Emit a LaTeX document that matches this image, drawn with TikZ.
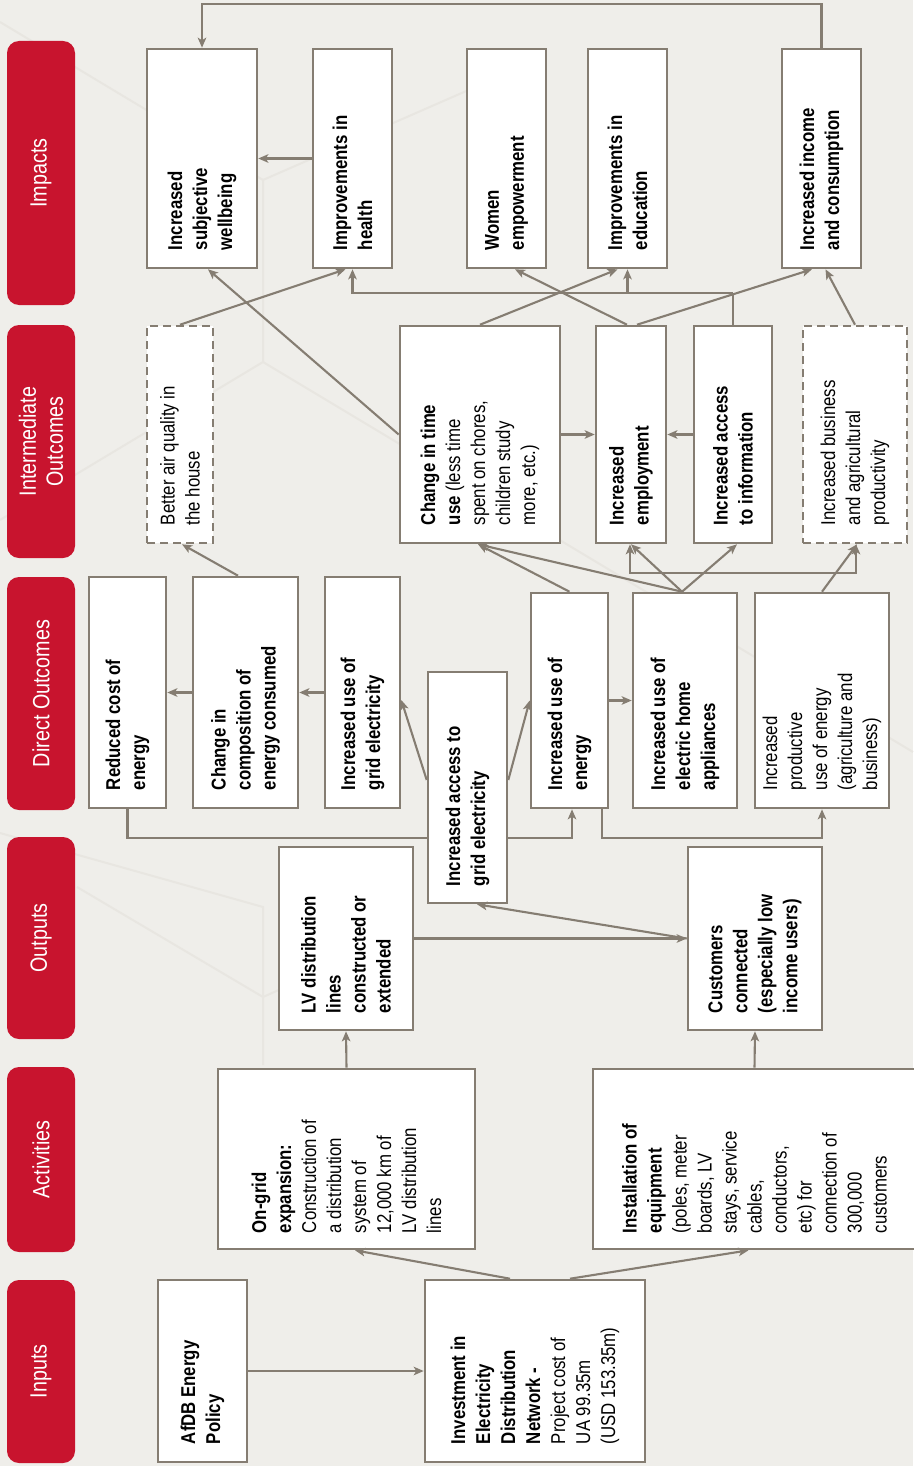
\documentclass[tikz,border=0pt]{standalone}
\usepackage{fontspec}
\setmainfont{Liberation Sans}[FakeStretch=0.84]
\usetikzlibrary{arrows.meta,fit}
\definecolor{bg}{HTML}{EFEEEA}
\definecolor{ln}{HTML}{857D72}
\definecolor{redc}{HTML}{C8142E}
\definecolor{bgl}{HTML}{E8E6E1}
\begin{document}
\begin{tikzpicture}[x=1pt,y=-1pt,
  box/.style={draw=ln, line width=2.6pt, fill=white, inner sep=0pt, rectangle},
  dbox/.style={box, dash pattern=on 8pt off 5pt},
  txt/.style={rotate=90, anchor=west, inner sep=0pt, align=left, text=black, font=\fontsize{20}{25}\selectfont},
  txtb/.style={txt, font=\fontsize{20}{25}\selectfont\bfseries},
  cat/.style={fill=redc, rounded corners=12pt, rotate=90, text=white, align=center, inner sep=0pt, font=\fontsize{23.5}{27}\selectfont},
  conn/.style={draw=ln, line width=2.1pt},
  arr/.style={conn, -{Stealth[length=10pt,width=8.5pt,inset=2.5pt]}},
  bgline/.style={draw=bgl, line width=2pt},
]
\useasboundingbox (0,0) rectangle (913,1466);
\fill[bg] (0,0) rectangle (913,1466);
% faint background pattern
\draw[bgline] (0,22) -- (263,180) -- (263,362);
\draw[bgline] (263,180) -- (480,85);
\draw[bgline] (0,520) -- (263,362) -- (913,752);
\draw[bgline] (0,833) -- (263,907) -- (263,1065);
\draw[bgline] (77,887) -- (263,997) -- (290,985);

% category labels
\node[cat, minimum width=264pt, minimum height=68pt] (cimp) at (41,173) {Impacts};
\node[cat, minimum width=233pt, minimum height=68pt] (cint) at (41,441.5) {Intermediate\\Outcomes};
\node[cat, minimum width=233pt, minimum height=68pt] (cdir) at (41,693.5) {Direct Outcomes};
\node[cat, minimum width=202pt, minimum height=68pt] (cout) at (41,938) {Outputs};
\node[cat, minimum width=185pt, minimum height=68pt] (cact) at (41,1159.5) {Activities};
\node[cat, minimum width=183pt, minimum height=68pt] (cinp) at (41,1371.5) {Inputs};

% boxes: Impacts
\node[box, fit={(147,49)(257,268)}] (wb) {};
\node[box, fit={(313,49)(392,268)}] (hl) {};
\node[box, fit={(467,49)(546,268)}] (wm) {};
\node[box, fit={(588,49)(667,268)}] (ed) {};
\node[box, fit={(782,49)(861,268)}] (inc) {};
% Intermediate
\node[dbox, fit={(147,326)(213,543)}] (ba) {};
\node[box, fit={(400,326)(560,543)}] (ct) {};
\node[box, fit={(596,326)(666,543)}] (em) {};
\node[box, fit={(694,326)(772,543)}] (ai) {};
\node[dbox, fit={(803,326)(907,543)}] (bu) {};
% Direct outcomes
\node[box, fit={(89,577)(166,808)}] (rc) {};
\node[box, fit={(193,577)(298,808)}] (co) {};
\node[box, fit={(325,577)(400,808)}] (gu) {};
\node[box, fit={(531,593)(608,808)}] (ue) {};
\node[box, fit={(633,593)(737,808)}] (ap) {};
\node[box, fit={(755,593)(889,808)}] (pu) {};
% connectors passing behind the access box
\draw[arr] (rc.south) -- ++(0,29) -| ([xshift=2.5pt]ue.south);
\draw[arr] ([xshift=32.5pt]ue.south) -- ++(0,29) -| (pu.south);
\node[box, fit={(428,672)(507,903)}] (ag) {};
% Outputs
\node[box, fit={(279,847)(413,1030)}] (lv) {};
\node[box, fit={(688,847)(822,1030)}] (cu) {};
% Activities
\node[box, fit={(218,1069)(475,1249)}] (og) {};
\node[box, fit={(593,1069)(916,1249)}] (ins) {};
% Inputs
\node[box, fit={(158,1280)(247,1462)}] (af) {};
\node[box, fit={(425,1280)(645,1462)}] (iv) {};

% ---------- texts ----------
\node[txtb] (wbt) at ([yshift=19pt]wb.south) {Increased\\subjective\\wellbeing};
\node[txtb] (hlt) at ([yshift=19pt]hl.south) {Improvements in\\health};
\node[txtb] (wmt) at ([yshift=19pt]wm.south) {Women\\empowerment};
\node[txtb] (edt) at ([yshift=19pt]ed.south) {Improvements in\\education};
\node[txtb] (inct) at ([yshift=19pt]inc.south) {Increased income\\and consumption};
\node[txt] (bat) at ([yshift=19pt]ba.south) {Better air quality in\\the house};
\node[txt] (ctt) at ([yshift=19pt]ct.south) {\textbf{Change in time}\\\textbf{use} (less time\\spent on chores,\\children study\\more, etc.)};
\node[txtb] (emt) at ([yshift=19pt]em.south) {Increased\\employment};
\node[txtb] (ait) at ([yshift=19pt]ai.south) {Increased access\\to information};
\node[txt] (but) at ([yshift=19pt]bu.south) {Increased business\\and agricultural\\productivity};
\node[txtb] (rct) at ([yshift=19pt]rc.south) {Reduced cost of\\energy};
\node[txtb] (cot) at ([yshift=19pt]co.south) {Change in\\composition of\\energy consumed};
\node[txtb] (gut) at ([yshift=19pt]gu.south) {Increased use of\\grid electricity};
\node[txtb] (agt) at ([yshift=18pt]ag.south) {Increased access to\\grid electricity};
\node[txtb] (uet) at ([yshift=19pt]ue.south) {Increased use of\\energy};
\node[txtb] (apt) at ([yshift=19pt]ap.south) {Increased use of\\electric home\\appliances};
\node[txt] (put) at ([yshift=19pt]pu.south) {Increased\\productive\\use of energy\\(agriculture and\\business)};
\node[txtb] (lvt) at ([yshift=18pt]lv.south) {LV distribution\\lines\\constructed or\\extended};
\node[txtb] (cut) at ([yshift=18pt]cu.south) {Customers\\connected\\(especially low\\income users)};
\node[txt] (ogt) at ([yshift=17pt]og.south) {\textbf{On-grid}\\\textbf{expansion:}\\Construction of\\a distribution\\system of\\12,000 km of\\LV distribution\\lines};
\node[txt] (inst) at ([yshift=17pt]ins.south) {\textbf{Installation of}\\\textbf{equipment}\\(poles, meter\\boards, LV\\stays, service\\cables,\\conductors,\\etc) for\\connection of\\300,000\\customers};
\node[txtb] (aft) at ([yshift=19pt]af.south) {AfDB Energy\\Policy};
\node[txt] (ivt) at ([yshift=19pt]iv.south) {\textbf{Investment in}\\\textbf{Electricity}\\\textbf{Distribution}\\\textbf{Network -}\\Project cost of\\UA 99.35m\\(USD 153.35m)};

% ---------- connectors ----------
% impacts level
\draw[arr] (inc.north) -- ++(0,-44) -| (wb.north);
\draw[arr] (hl.west) -- (wb.east);
\draw[arr] (ba.north) -- ([xshift=-7pt]hl.south);
\coordinate (bus1) at ([yshift=32pt]ai.north);
\draw[conn] (ai.north) -- (bus1);
\draw[arr] (bus1) -| (hl.south);
\draw[arr] (ed.south |- bus1) -- (ed.south);
\draw[arr] (ct.west) -- ([xshift=6pt]wb.south);
\draw[arr] (ct.north) -- ([xshift=-10pt]ed.south);
\draw[arr] ([xshift=-4pt]em.north) -- ([xshift=8.5pt]wm.south);
\draw[arr] ([xshift=6pt]em.north) -- ([xshift=-9.5pt]inc.south);
\draw[arr] (bu.north) -- ([xshift=4pt]inc.south);
% intermediate level
\draw[arr] (ct.east) -- (em.west);
\draw[arr] (ai.west) -- (em.east);
% direct outcomes level
\draw[arr] (co.west) -- (rc.east);
\draw[arr] (gu.west) -- (co.east);
\draw[arr] ([yshift=7.5pt]ag.west) -- ([yshift=-7.5pt]gu.east);
\draw[arr] ([yshift=7.5pt]ag.east) -- (ue.west);
\draw[arr] (ue.east) -- (ap.west);
\draw[arr] ([xshift=-7.5pt]co.north) -- ([xshift=2pt]ba.south);
\draw[arr] (ue.north) -- ([xshift=-2pt]ct.south);
\draw[arr] ([xshift=-3pt]ap.north) -- ([xshift=-2pt]ct.south);
\draw[arr] ([xshift=-3pt]ap.north) -- (em.south);
\draw[arr] ([xshift=-3pt]ap.north) -- ([xshift=4pt]ai.south);
\draw[arr] (pu.north) -- ([xshift=2pt]bu.south);
\draw[conn, {Stealth[length=10pt,width=8.5pt,inset=2.5pt]}-{Stealth[length=10pt,width=8.5pt,inset=2.5pt]}] ([xshift=-1pt]em.south) -- ++(0,29) -| ([xshift=1pt]bu.south);
% outputs
\draw[arr] (lv.east) -- (cu.west);
\draw[arr] (cu.west) -- ([xshift=9.5pt]ag.south);
% activities
\draw[arr] (og.north) -- (lv.south);
\draw[arr] (ins.north) -- (cu.south);
% inputs
\draw[arr] (af.east) -- (iv.west);
\draw[arr] ([xshift=-25pt]iv.north) -- ([xshift=8.5pt]og.south);
\draw[arr] ([xshift=35pt]iv.north) -- ([xshift=-6pt]ins.south);
\end{tikzpicture}
\end{document}
